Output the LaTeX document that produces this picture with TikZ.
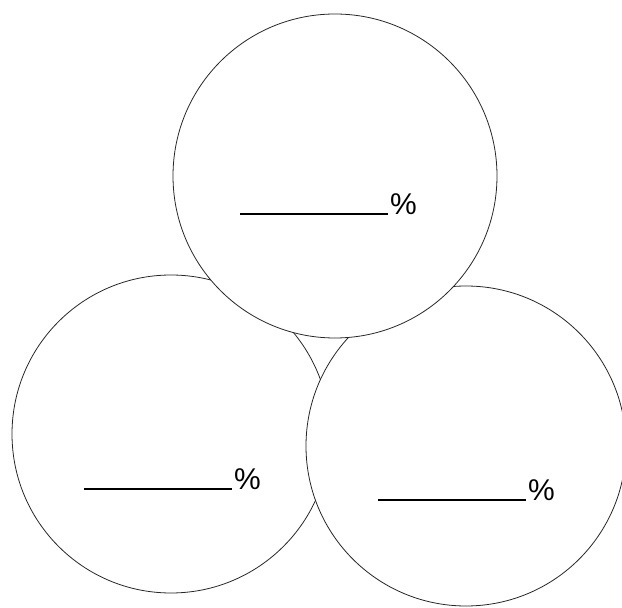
\documentclass[tikz,border=0pt]{standalone}
\usepackage{fontspec}
\setmainfont{Liberation Sans}
\begin{document}
\begin{tikzpicture}[x=1pt,y=1pt,
  ring/.style={circle, draw=black!85, line width=0.8pt, fill=white, inner sep=0pt},
  blank/.style={anchor=base west, inner sep=0pt, font=\fontsize{30}{32}\selectfont}]
\useasboundingbox (0,0) rectangle (622,608);
\node[ring, minimum size=318pt] (L) at (171,174) {};
\node[ring, minimum size=320pt] (R) at (466,162) {};
\node[ring, minimum size=324pt] (T) at (335,432) {};
\node[blank] (tT) at (240,393) {\rule{148pt}{2.2pt}\hspace{2pt}\%};
\node[blank] (tL) at (84,118) {\rule{148pt}{2.2pt}\hspace{2pt}\%};
\node[blank] (tR) at (378,107) {\rule{148pt}{2.2pt}\hspace{2pt}\%};
\end{tikzpicture}
\end{document}
